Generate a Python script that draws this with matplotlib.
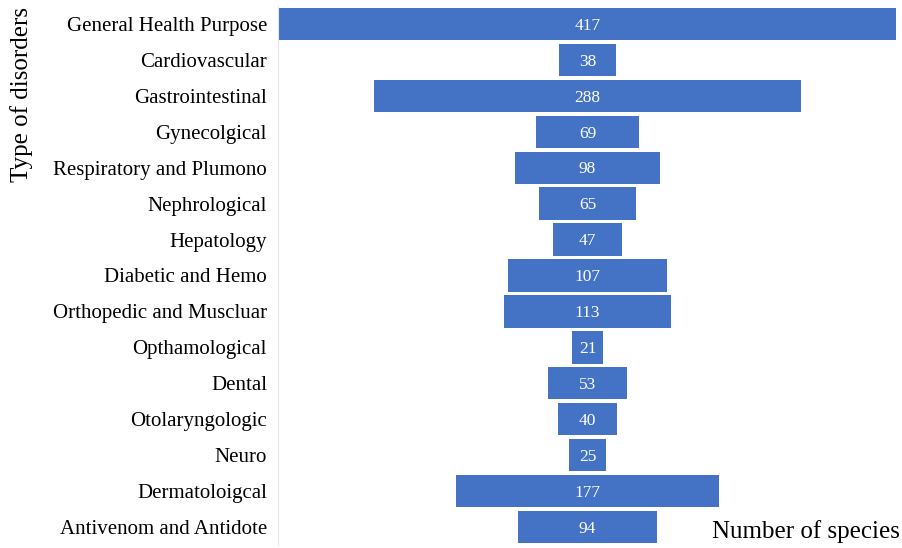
import matplotlib.pyplot as plt

# Data
disorders = ['General Health Purpose', 'Cardiovascular', 'Gastrointestinal', 'Gynecolgical',
             'Respiratory and Plumono', 'Nephrological', 'Hepatology', 'Diabetic and Hemo',
             'Orthopedic and Muscluar', 'Opthamological', 'Dental', 'Otolaryngologic',
             'Neuro', 'Dermatoloigcal', 'Antivenom and Antidote']
species = [417, 38, 288, 69, 98, 65, 47, 107, 113, 21, 53, 40, 25, 177, 94]

plt.rcParams['font.family'] = ['Liberation Serif', 'DejaVu Serif']

fig = plt.figure(figsize=(9.03, 5.48), dpi=100)
ax = fig.add_axes([278 / 903, 3 / 548, 619 / 903, 539 / 548])

ypos = list(range(len(disorders)))
lefts = [-v / 2 for v in species]
bars = ax.barh(ypos, species, left=lefts, height=0.9, color='#4472C4')

for y, v in zip(ypos, species):
    ax.text(0, y + 0.05, str(v), ha='center', va='center', color='white', fontsize=12.5)

ax.set_yticks(ypos)
ax.set_yticklabels(disorders, fontsize=15)
ax.set_ylim(len(disorders) - 0.5, -0.5)
ax.set_xlim(-209, 209)
ax.set_xticks([])
ax.tick_params(axis='y', length=0, pad=8)

for s in ['top', 'right', 'bottom']:
    ax.spines[s].set_visible(False)
ax.spines['left'].set_color('#e6e6e6')

fig.text(22 / 903, 1 - 95 / 548, 'Type of disorders', rotation=90, ha='center', va='center', fontsize=18)
fig.text(900 / 903, 1 - 532 / 548, 'Number of species', ha='right', va='center', fontsize=18)

fig.savefig('out.png', dpi=100)
